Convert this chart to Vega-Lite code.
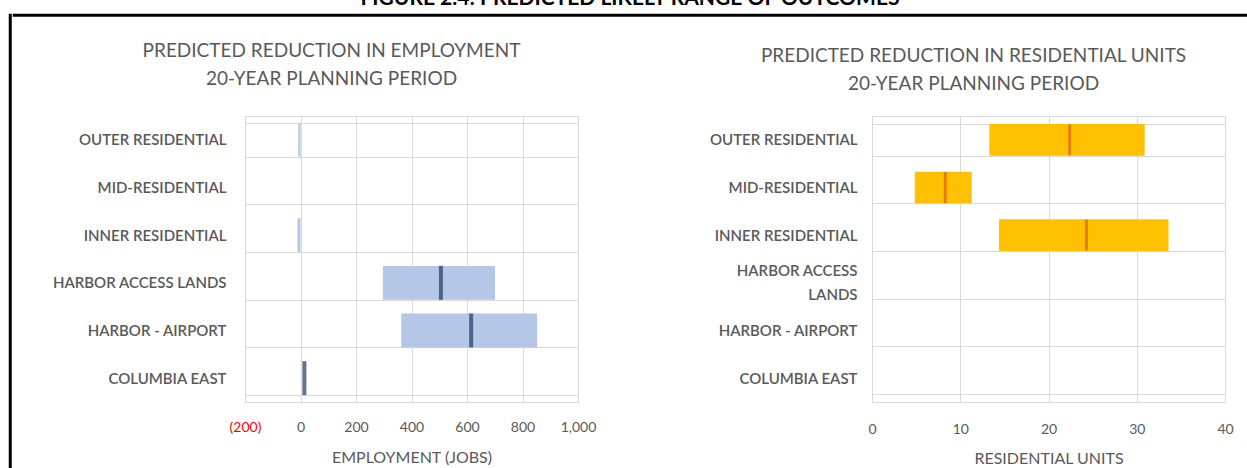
{
  "$schema": "https://vega.github.io/schema/vega-lite/v6.json",
  "background": "white",
  "padding": {"left": 8, "top": -13, "right": 0, "bottom": 0},
  "title": {"text": "FIGURE 2.4: PREDICTED LIKELY RANGE OF OUTCOMES", "font": "Lato", "fontSize": 21, "fontWeight": "bold", "color": "#000000", "anchor": "middle", "frame": "bounds", "offset": 5},
  "spacing": 0,
  "config": {
    "font": "Lato",
    "view": {"stroke": "#d9d9d9", "strokeWidth": 1},
    "axis": {
      "labelFont": "Lato",
      "titleFont": "Lato",
      "labelColor": "#595959",
      "titleColor": "#595959",
      "gridColor": "#d9d9d9",
      "gridWidth": 1,
      "domain": false,
      "ticks": false
    },
    "title": {"font": "Lato", "color": "#595959", "fontWeight": "normal", "fontSize": 19, "lineHeight": 28, "anchor": "middle", "frame": "group"}
  },
  "hconcat": [
    {
      "width": 0.5,
      "height": 455,
      "data": {"values": []},
      "mark": "point",
      "view": {"stroke": "#000000", "strokeWidth": 2.5}
    },
    {
      "spacing": 24,
      "vconcat": [
        {
          "width": 1236,
          "height": 0.5,
          "data": {"values": []},
          "mark": "point",
          "view": {"stroke": "#000000", "strokeWidth": 2.5}
        },
        {
          "spacing": 36,
          "hconcat": [
            {
              "width": 0.5,
              "height": 10,
              "data": {"values": []},
              "mark": "point",
              "view": {"stroke": null}
            },
            {
              "width": 333,
              "height": 286,
              "title": {"text": ["PREDICTED REDUCTION IN EMPLOYMENT", "20-YEAR PLANNING PERIOD"], "offset": 20, "dx": -80},
              "data": {"values": [
                {"category": "OUTER RESIDENTIAL", "low": -8, "high": 0, "median": null},
                {"category": "MID-RESIDENTIAL", "low": null, "high": null, "median": null},
                {"category": "INNER RESIDENTIAL", "low": -11, "high": 0, "median": null},
                {"category": "HARBOR ACCESS LANDS", "low": 297, "high": 701, "median": 506},
                {"category": "HARBOR - AIRPORT", "low": 363, "high": 853, "median": 615},
                {"category": "COLUMBIA EAST", "low": null, "high": null, "median": 14}
              ]},
              "encoding": {
                "y": {
                  "field": "category", "type": "nominal",
                  "scale": {"domain": ["OUTER RESIDENTIAL", "MID-RESIDENTIAL", "INNER RESIDENTIAL", "HARBOR ACCESS LANDS", "HARBOR - AIRPORT", "COLUMBIA EAST"], "paddingInner": 0.29, "paddingOuter": 0.145},
                  "axis": {"title": null, "grid": true, "tickBand": "extent", "labelPadding": 19, "labelFontSize": 15, "labelFontWeight": 600, "minExtent": 190, "maxExtent": 190}
                }
              },
              "layer": [
                {
                  "mark": {"type": "bar", "color": "#b4c7e7"},
                  "encoding": {
                    "x": {
                      "field": "low", "type": "quantitative",
                      "scale": {"domain": [-200, 1000], "nice": false, "zero": false},
                      "axis": {
                        "values": [-200, 0, 200, 400, 600, 800, 1000],
                        "labelExpr": "datum.value < 0 ? '(' + format(-datum.value, ',') + ')' : format(datum.value, ',')",
                        "labelColor": {"condition": {"test": "datum.value < 0", "value": "#ff0000"}, "value": "#595959"},
                        "labelFlush": false,
                        "labelOverlap": false,
                        "labelFontSize": 14,
                        "labelPadding": 18,
                        "title": "EMPLOYMENT  (JOBS)",
                        "titleFontSize": 16,
                        "titleFontWeight": "normal",
                        "titlePadding": 15
                      }
                    },
                    "x2": {"field": "high"}
                  }
                },
                {
                  "mark": {"type": "tick", "color": "#1f3864", "thickness": 4, "size": 34},
                  "encoding": {"x": {"field": "median", "type": "quantitative"}}
                }
              ]
            },
            {
              "width": 353,
              "height": 286,
              "title": {"text": ["PREDICTED REDUCTION IN RESIDENTIAL UNITS", "20-YEAR PLANNING PERIOD"], "offset": 15, "dx": -75},
              "data": {"values": [
                {"category": "OUTER RESIDENTIAL", "low": 13.3, "high": 30.9, "median": 22.4},
                {"category": "MID-RESIDENTIAL", "low": 4.85, "high": 11.3, "median": 8.3},
                {"category": "INNER RESIDENTIAL", "low": 14.4, "high": 33.6, "median": 24.3},
                {"category": "HARBOR ACCESS LANDS", "low": null, "high": null, "median": null},
                {"category": "HARBOR - AIRPORT", "low": null, "high": null, "median": null},
                {"category": "COLUMBIA EAST", "low": null, "high": null, "median": null}
              ]},
              "encoding": {
                "y": {
                  "field": "category", "type": "nominal",
                  "scale": {"domain": ["OUTER RESIDENTIAL", "MID-RESIDENTIAL", "INNER RESIDENTIAL", "HARBOR ACCESS LANDS", "HARBOR - AIRPORT", "COLUMBIA EAST"], "paddingInner": 0.335, "paddingOuter": 0.1675},
                  "axis": {"title": null, "grid": true, "tickBand": "extent", "labelPadding": 15, "labelFontSize": 15, "labelFontWeight": 600, "labelLineHeight": 24,
                    "minExtent": 238, "maxExtent": 238,
                    "labelOffset": {"condition": {"test": "datum.value == 'HARBOR ACCESS LANDS'", "value": -12}, "value": 0},
                    "labelExpr": "datum.value == 'HARBOR ACCESS LANDS' ? ['HARBOR ACCESS', 'LANDS'] : datum.value"}
                }
              },
              "layer": [
                {
                  "mark": {"type": "bar", "color": "#ffc000"},
                  "encoding": {
                    "x": {
                      "field": "low", "type": "quantitative",
                      "scale": {"domain": [0, 40], "nice": false},
                      "axis": {
                        "values": [0, 10, 20, 30, 40],
                        "labelFlush": false,
                        "labelOverlap": false,
                        "labelFontSize": 14,
                        "labelPadding": 20,
                        "title": "RESIDENTIAL  UNITS",
                        "titleFontSize": 16,
                        "titleFontWeight": "normal",
                        "titlePadding": 14
                      }
                    },
                    "x2": {"field": "high"}
                  }
                },
                {
                  "mark": {"type": "tick", "color": "#dc5f1a", "thickness": 3, "size": 31},
                  "encoding": {"x": {"field": "median", "type": "quantitative"}}
                }
              ]
            }
          ]
        }
      ]
    }
  ]
}
